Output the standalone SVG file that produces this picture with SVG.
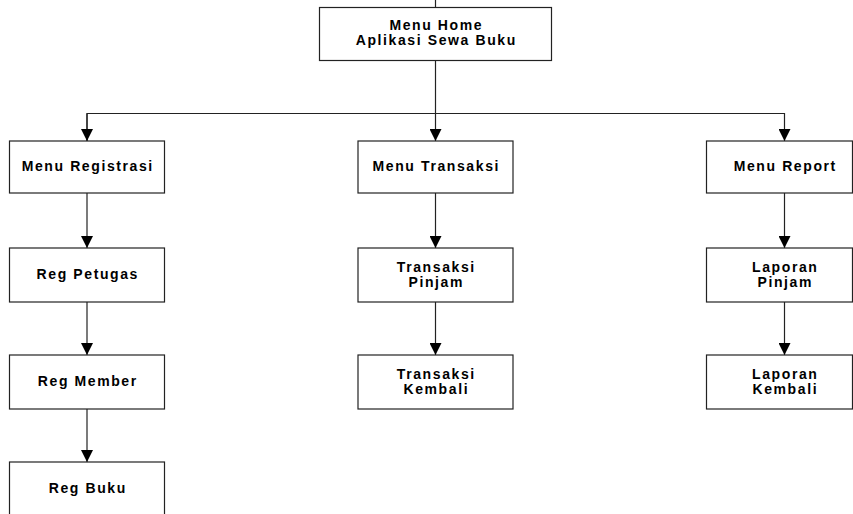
<svg xmlns="http://www.w3.org/2000/svg" width="853" height="514" viewBox="0 0 853 514">
<style>
.box{fill:#fff;stroke:#222;stroke-width:1.2}
.t{font-family:"Liberation Sans",Arial,sans-serif;font-size:14px;font-weight:bold;letter-spacing:1.6px;text-anchor:middle;fill:#000}
.c{fill:none;stroke:#222;stroke-width:1.2}
</style>
<defs>
<marker id="ah" viewBox="0 0 12 12" refX="12" refY="6" markerWidth="12" markerHeight="12" markerUnits="userSpaceOnUse" orient="auto">
<path d="M0,0 L12,6 L0,12 Z" fill="#000"/>
</marker>
</defs>
<rect width="853" height="514" fill="#fff"/>
<g id="connectors">
<path class="c" d="M435.5,0 V7"/>
<path class="c" d="M435.5,60 V141" marker-end="url(#ah)"/>
<path class="c" d="M87,141 V113.5 H784.5 V141" marker-end="url(#ah)"/>
<path class="c" d="M87,113.5 V141" marker-end="url(#ah)"/>
<path class="c" d="M87,193 V248" marker-end="url(#ah)"/>
<path class="c" d="M87,302 V355" marker-end="url(#ah)"/>
<path class="c" d="M87,409 V462" marker-end="url(#ah)"/>
<path class="c" d="M435.5,193 V248" marker-end="url(#ah)"/>
<path class="c" d="M435.5,302 V355" marker-end="url(#ah)"/>
<path class="c" d="M784.5,193 V248" marker-end="url(#ah)"/>
<path class="c" d="M784.5,302 V355" marker-end="url(#ah)"/>
</g>
<g id="home"><rect class="box" x="319.5" y="7.5" width="232" height="53"/>
<text class="t" x="436.3" y="30">Menu Home</text><text class="t" x="436.3" y="45">Aplikasi Sewa Buku</text></g>
<g id="registrasi"><rect class="box" x="9.5" y="141" width="155" height="52"/><text class="t" x="87.8" y="171">Menu Registrasi</text></g>
<g id="petugas"><rect class="box" x="9.5" y="248" width="155" height="54"/><text class="t" x="87.8" y="279">Reg Petugas</text></g>
<g id="member"><rect class="box" x="9.5" y="355" width="155" height="54"/><text class="t" x="87.8" y="386">Reg Member</text></g>
<g id="buku"><rect class="box" x="9.5" y="462" width="155" height="60"/><text class="t" x="87.8" y="493">Reg Buku</text></g>
<g id="transaksi"><rect class="box" x="358" y="141" width="155" height="52"/><text class="t" x="436.3" y="171">Menu Transaksi</text></g>
<g id="tpinjam"><rect class="box" x="358" y="248" width="155" height="54"/><text class="t" x="436.3" y="271.5">Transaksi</text><text class="t" x="436.3" y="286.5">Pinjam</text></g>
<g id="tkembali"><rect class="box" x="358" y="355" width="155" height="54"/><text class="t" x="436.3" y="378.5">Transaksi</text><text class="t" x="436.3" y="393.5">Kembali</text></g>
<g id="report"><rect class="box" x="706.5" y="141" width="146" height="52"/><text class="t" x="785.3" y="171">Menu Report</text></g>
<g id="lpinjam"><rect class="box" x="706.5" y="248" width="146" height="54"/><text class="t" x="785.3" y="271.5">Laporan</text><text class="t" x="785.3" y="286.5">Pinjam</text></g>
<g id="lkembali"><rect class="box" x="706.5" y="355" width="146" height="54"/><text class="t" x="785.3" y="378.5">Laporan</text><text class="t" x="785.3" y="393.5">Kembali</text></g>
</svg>
